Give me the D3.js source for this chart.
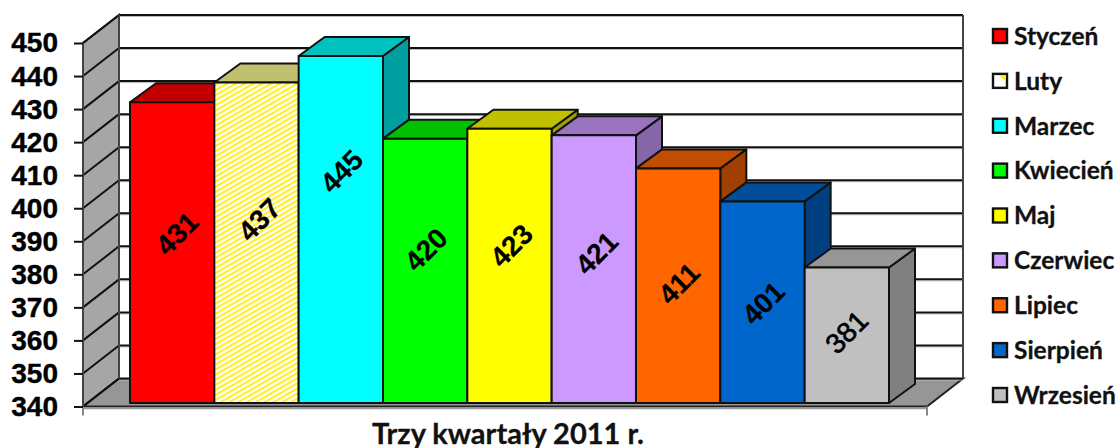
<!DOCTYPE html>
<html><head><meta charset="utf-8">
<script src="https://cdn.jsdelivr.net/npm/d3@7"></script>
<style>html,body{margin:0;padding:0;background:#fff}svg{display:block}</style>
</head><body><svg id="c" width="1118" height="448"></svg>
<script>
const months = ["Styczeń","Luty","Marzec","Kwiecień","Maj","Czerwiec","Lipiec","Sierpień","Wrzesień"];
const values = [431,437,445,420,423,421,411,401,381];
const yTicks = [340,350,360,370,380,390,400,410,420,430,440,450];
const frontColors = ["#ff0000","url(#hatch)","#00ffff","#00ff00","#ffff00","#cc99ff","#ff6600","#0066cc","#c0c0c0"];
const topColors = ["#c00000","#c0c070","#00c0c0","#00c000","#c0c000","#9a74c0","#c04d00","#004d99","#969696"];
const sideColors = ["#a00000","#a0a060","#00a0a0","#00a000","#a0a000","#8567a8","#a04000","#004080","#808080"];
// hand placement of the value labels, relative to the middle of each bar
const labelShiftX = [5,3,1,1,2,3,1,1,0];
const labelShiftY = [-19,-23,-58,-21,-20,-16,-2,1,-3];

const svg = d3.select("#c");
const W = {x0:83, x1:927, dx:36, dy:-28};
const B = {oy:-3.5, dx:26, dy:-19, x0:130, x1:889};
const y = d3.scaleLinear().domain([340,450]).range([406.5,43]);
const x = d3.scaleBand().domain(months).range([B.x0,B.x1]);
const poly = pts => pts.map(p=>p.join(",")).join(" ");

const defs = svg.append("defs");
const pat = defs.append("pattern").attr("id","hatch").attr("patternUnits","userSpaceOnUse")
  .attr("width",4.4).attr("height",4.4).attr("patternTransform","rotate(-30)");
pat.append("rect").attr("width",4.4).attr("height",4.4).attr("fill","#fff");
pat.append("rect").attr("width",4.4).attr("height",2.1).attr("fill","#ffee22");

// walls and floor
const by0 = y(340)+W.dy, by1 = y(450)+W.dy, bx0 = W.x0+W.dx, bx1 = W.x1+W.dx;
svg.append("polygon").attr("points",poly([[W.x0,y(340)],[bx0,by0],[bx0,by1],[W.x0,y(450)]])).attr("fill","#a6a6a6").attr("stroke","#222").attr("stroke-width",2);
svg.append("polygon").attr("points",poly([[W.x0,y(340)],[bx0,by0],[bx1,by0],[W.x1,y(340)]])).attr("fill","#969696").attr("stroke","#222").attr("stroke-width",2);
svg.append("line").attr("x1",W.x0).attr("x2",W.x1).attr("y1",y(340)+2).attr("y2",y(340)+2).attr("stroke","#999").attr("stroke-width",1.5);
svg.append("polygon").attr("points",poly([[bx0,by0],[bx1,by0],[bx1,by1],[bx0,by1]])).attr("fill","#fff");

yTicks.forEach(t=>{
  svg.append("line").attr("x1",bx0).attr("x2",bx1).attr("y1",y(t)+W.dy+1.5).attr("y2",y(t)+W.dy+1.5).attr("stroke","#bbb").attr("stroke-width",1);
  svg.append("line").attr("x1",bx0).attr("x2",bx1).attr("y1",y(t)+W.dy).attr("y2",y(t)+W.dy).attr("stroke","#111").attr("stroke-width",2);
  svg.append("line").attr("x1",W.x0).attr("x2",bx0).attr("y1",y(t)).attr("y2",y(t)+W.dy).attr("stroke","#111").attr("stroke-width",2);
});
svg.append("line").attr("x1",bx0).attr("x2",bx0).attr("y1",by0).attr("y2",by1).attr("stroke","#444").attr("stroke-width",2);
svg.append("line").attr("x1",bx1).attr("x2",bx1).attr("y1",by0).attr("y2",by1).attr("stroke","#444").attr("stroke-width",2);
svg.append("line").attr("x1",W.x0).attr("x2",W.x0).attr("y1",y(340)).attr("y2",y(450)).attr("stroke","#444").attr("stroke-width",2);
svg.append("line").attr("x1",W.x0).attr("x2",W.x0).attr("y1",y(340)).attr("y2",y(340)+9).attr("stroke","#888").attr("stroke-width",2);
svg.append("line").attr("x1",W.x1).attr("x2",W.x1).attr("y1",y(340)).attr("y2",y(340)+9).attr("stroke","#888").attr("stroke-width",2);

// axis
const ax = svg.append("g").attr("transform",`translate(${W.x0},0)`)
  .call(d3.axisLeft(y).tickValues(yTicks).tickSize(9).tickPadding(16).tickFormat(d3.format("d")));
ax.select(".domain").remove();
ax.selectAll("line").attr("stroke","#111").attr("stroke-width",2);
ax.selectAll("text").attr("fill","#000").style("font-family","'Liberation Sans'").style("font-weight",700).style("font-size","28px").attr("stroke","#000").attr("stroke-width",0.4);

// bars
const by = v => y(v)+B.oy;
const base = y(340)+B.oy;
const g = svg.selectAll("g.bar").data(months.map((m,i)=>({m,v:values[i],i}))).join("g").attr("class","bar");
g.each(function(d){
  const s = d3.select(this), x0=x(d.m), x1=x0+x.bandwidth(), t=by(d.v);
  const st = el => el.attr("stroke","#111").attr("stroke-width",2).attr("stroke-linejoin","round");
  st(s.append("polygon").attr("points",poly([[x1,base],[x1+B.dx,base+B.dy],[x1+B.dx,t+B.dy],[x1,t]])).attr("fill",sideColors[d.i]));
  st(s.append("polygon").attr("points",poly([[x0,t],[x0+B.dx,t+B.dy],[x1+B.dx,t+B.dy],[x1,t]])).attr("fill",topColors[d.i]));
  st(s.append("rect").attr("x",x0).attr("y",t).attr("width",x.bandwidth()).attr("height",base-t).attr("fill",frontColors[d.i]));
});
// value labels on top of all bars
svg.selectAll("text.val").data(months.map((m,i)=>({m,v:values[i],i}))).join("text").attr("class","val")
  .attr("transform",d=>`translate(${x(d.m)+x.bandwidth()/2+labelShiftX[d.i]},${(by(d.v)+base)/2+labelShiftY[d.i]}) rotate(-45)`)
  .attr("text-anchor","middle").attr("dominant-baseline","central")
  .attr("font-family","'Liberation Sans'").attr("font-weight",d=>d.i===8?400:700).attr("font-size",28).attr("fill","#000")
  .attr("stroke","#000").attr("stroke-width",d=>d.i===8?0.7:0.2)
  .text(d=>d.v);

// legend
const ly = d3.scalePoint().domain(months).range([36,395]);
const lg = svg.selectAll("g.leg").data(months.map((m,i)=>({m,i}))).join("g").attr("class","leg")
  .attr("transform",d=>`translate(993,${ly(d.m)})`);
lg.append("rect").attr("x",0).attr("y",-7).attr("width",14).attr("height",14).attr("fill",d=>d.i===1?"#fff":frontColors[d.i]).attr("stroke","#111").attr("stroke-width",2.4);
lg.filter(d=>d.i===1).append("polygon").attr("points",poly([[6,-6],[13,-6],[13,1]])).attr("fill","#ffee00");
lg.append("text").attr("x",21).attr("dy","0.36em").attr("font-family","Lato").attr("font-weight",700).attr("font-size",24.5).attr("fill","#111").attr("stroke","#111").attr("stroke-width",0.3).text(d=>d.m);

svg.append("text").attr("x",508).attr("y",444).attr("text-anchor","middle").attr("font-family","Lato").attr("font-weight",700).attr("font-size",29).attr("fill","#111").attr("stroke","#111").attr("stroke-width",0.3).text("Trzy kwartały 2011 r.");
</script></body></html>
